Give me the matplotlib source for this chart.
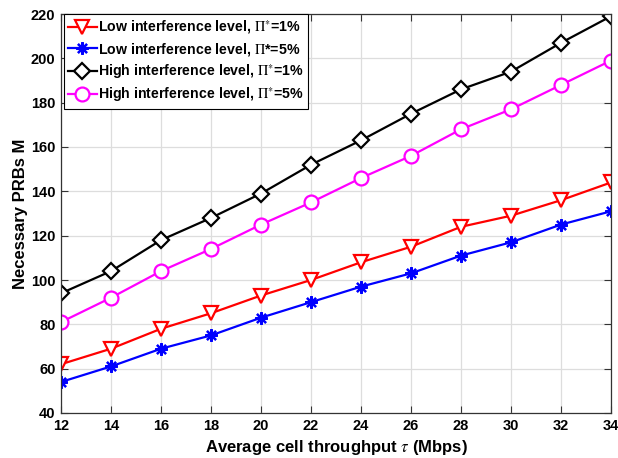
import matplotlib
matplotlib.use("Agg")
import matplotlib.pyplot as plt

plt.rcParams['font.family'] = ['Liberation Sans', 'DejaVu Sans']
plt.rcParams['mathtext.fontset'] = 'stix'

throughput = [12, 14, 16, 18, 20, 22, 24, 26, 28, 30, 32, 34]
low_1 = [62, 69, 78, 85, 93, 100, 108, 115, 124, 129, 136, 144]
low_5 = [54, 61, 69, 75, 83, 90, 97, 103, 111, 117, 125, 131]
high_1 = [94, 104, 118, 128, 139, 152, 163, 175, 186, 194, 207, 219]
high_5 = [81, 92, 104, 114, 125, 135, 146, 156, 168, 177, 188, 199]

labels = [
    r'Low interference level, $\Pi^{*}$=1%',
    r'Low interference level, $\Pi$*=5%',
    r'High interference level, $\Pi^{*}$=1%',
    r'High interference level, $\Pi^{*}$=5%',
]

fig = plt.figure(figsize=(6.18, 4.58), dpi=100)
ax = fig.add_axes([61 / 618, 45 / 458, 550 / 618, 399 / 458])

lw = 1.6
ax.plot(throughput, low_1, color='red', marker='v', markersize=10, markerfacecolor='white',
        markeredgewidth=1.6, lw=lw, label=labels[0])
ax.plot(throughput, low_5, color='blue', marker=(8, 2, 0), markersize=9,
        markeredgewidth=1.6, lw=lw, label=labels[1])
ax.plot(throughput, high_1, color='black', marker='D', markersize=8, markerfacecolor='white',
        markeredgewidth=1.6, lw=lw, label=labels[2])
ax.plot(throughput, high_5, color='magenta', marker='o', markersize=10, markerfacecolor='white',
        markeredgewidth=1.6, lw=lw, label=labels[3])

ax.set_xlim(12, 34)
ax.set_ylim(40, 220)
ax.set_xticks(throughput)
ax.set_yticks(range(40, 221, 20))
ax.grid(True, color='#dddddd', lw=0.9)
ax.set_axisbelow(True)
ax.tick_params(direction='in', top=True, right=True, length=5, labelsize=10.5,
               color='#333333', pad=4)
for t in ax.get_xticklabels() + ax.get_yticklabels():
    t.set_fontweight('bold')
for s in ax.spines.values():
    s.set_color('#333333')
    s.set_linewidth(0.9)

ax.set_xlabel(r'Average cell throughput $\tau$ (Mbps)', fontsize=12, fontweight='bold', labelpad=4)
ax.set_ylabel('Necessary PRBs M', fontsize=12, fontweight='bold', labelpad=2)

leg = ax.legend(loc='upper left', prop={'weight': 'bold', 'size': 10.2}, handlelength=2.0,
                handletextpad=0.1, borderaxespad=0.0, borderpad=0.3, labelspacing=0.32,
                fancybox=False, edgecolor='black', framealpha=1,
                bbox_to_anchor=(3 / 550, 1.0))
leg.get_frame().set_linewidth(0.8)

fig.savefig('out.png', dpi=100)
